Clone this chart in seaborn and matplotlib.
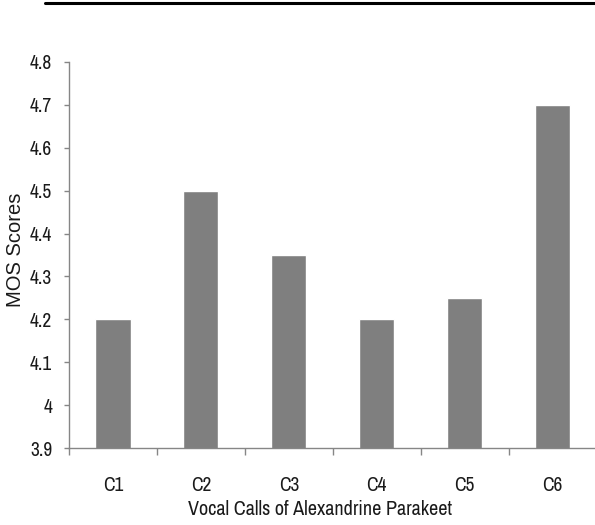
import matplotlib
matplotlib.use('Agg')
import matplotlib.pyplot as plt
from matplotlib.lines import Line2D
from matplotlib.ticker import FixedLocator
import seaborn as sns
import pandas as pd

calls = ['C1', 'C2', 'C3', 'C4', 'C5', 'C6']
mos_scores = [4.2, 4.5, 4.35, 4.2, 4.25, 4.7]
y_ticks = [3.9, 4.0, 4.1, 4.2, 4.3, 4.4, 4.5, 4.6, 4.7, 4.8]
y_tick_labels = ['3.9', '4', '4.1', '4.2', '4.3', '4.4', '4.5', '4.6', '4.7', '4.8']

df = pd.DataFrame({'Call': calls, 'MOS': mos_scores})

sns.set_style('white')
# the source picture is squeezed sideways, so a narrow face fits it best
narrow = ['Archivo Narrow', 'Liberation Sans', 'DejaVu Sans']
wide = ['Liberation Sans', 'DejaVu Sans']
plt.rcParams['font.family'] = narrow

fig = plt.figure(figsize=(5.95, 5.25), dpi=100)
ax = fig.add_axes([0.116, 0.1461, 0.894, 0.7364])

sns.barplot(data=df, x='Call', y='MOS', color='#7f7f7f', width=0.4,
            saturation=1, ax=ax)

ax.set_ylim(3.9, 4.8)
ax.set_xlim(-0.5, 5.55)
ax.set_yticks(y_ticks)
ax.set_yticklabels(y_tick_labels, fontsize=14, color='#1a1a1a')
ax.tick_params(axis='y', direction='out', length=3.6, width=1, color='#868686',
               left=True, pad=8.5)
ax.tick_params(axis='x', which='major', length=0, pad=20, labelsize=14,
               labelcolor='#1a1a1a')
ax.xaxis.set_minor_locator(FixedLocator([i + 0.5 for i in range(-1, len(calls))]))
ax.tick_params(axis='x', which='minor', direction='out', length=5, width=1,
               color='#868686', bottom=True)

for side in ['top', 'right']:
    ax.spines[side].set_visible(False)
for side in ['left', 'bottom']:
    ax.spines[side].set_color('#868686')
    ax.spines[side].set_linewidth(1)

ax.set_xlabel('Vocal Calls of Alexandrine Parakeet', fontsize=14.5,
              color='#1a1a1a')
ax.xaxis.set_label_coords(0.472, -0.135)
ax.set_ylabel('MOS Scores', fontsize=14.5, family=wide, color='#1a1a1a')
ax.yaxis.set_label_coords(-0.082, 0.513)

# page rule above the figure
fig.add_artist(Line2D([0.076, 1.0], [0.994, 0.994], color='black', lw=2.2,
                      transform=fig.transFigure))

fig.savefig('out.png', dpi=100)
